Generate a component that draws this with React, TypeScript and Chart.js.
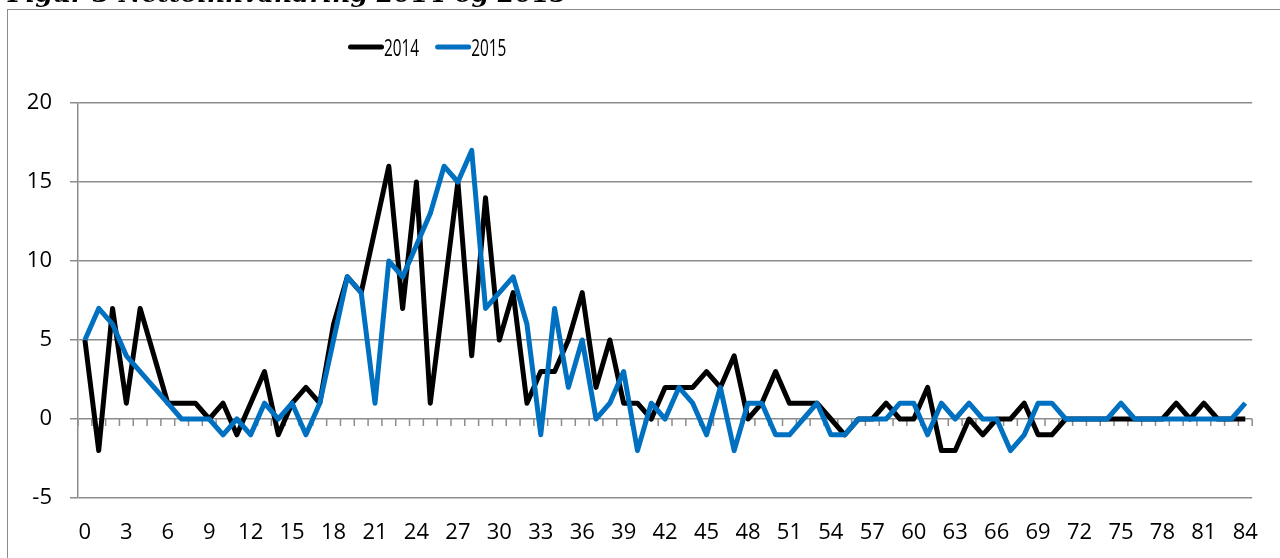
import React, { useEffect, useRef } from "react";
import { Chart, registerables } from "chart.js";

Chart.register(...registerables);

const titleText = "Figur 3 Nettoinnvandring 2014 og 2015";

const categories = [
  "0", "1", "2", "3", "4", "5", "6", "7", "8", "9",
  "10", "11", "12", "13", "14", "15", "16", "17", "18", "19",
  "20", "21", "22", "23", "24", "25", "26", "27", "28", "29",
  "30", "31", "32", "33", "34", "35", "36", "37", "38", "39",
  "40", "41", "42", "43", "44", "45", "46", "47", "48", "49",
  "50", "51", "52", "53", "54", "55", "56", "57", "58", "59",
  "60", "61", "62", "63", "64", "65", "66", "67", "68", "69",
  "70", "71", "72", "73", "74", "75", "76", "77", "78", "79",
  "80", "81", "82", "83", "84",
];

const series2014 = [
  5, -2, 7, 1, 7, 4, 1, 1, 1, 0,
  1, -1, 1, 3, -1, 1, 2, 1, 6, 9,
  8, 12, 16, 7, 15, 1, 8, 15, 4, 14,
  5, 8, 1, 3, 3, 5, 8, 2, 5, 1,
  1, 0, 2, 2, 2, 3, 2, 4, 0, 1,
  3, 1, 1, 1, 0, -1, 0, 0, 1, 0,
  0, 2, -2, -2, 0, -1, 0, 0, 1, -1,
  -1, 0, 0, 0, 0, 0, 0, 0, 0, 1,
  0, 1, 0, 0, 0,
];

const series2015 = [
  5, 7, 6, 4, 3, 2, 1, 0, 0, 0,
  -1, 0, -1, 1, 0, 1, -1, 1, 5, 9,
  8, 1, 10, 9, 11, 13, 16, 15, 17, 7,
  8, 9, 6, -1, 7, 2, 5, 0, 1, 3,
  -2, 1, 0, 2, 1, -1, 2, -2, 1, 1,
  -1, -1, 0, 1, -1, -1, 0, 0, 0, 1,
  1, -1, 1, 0, 1, 0, 0, -2, -1, 1,
  1, 0, 0, 0, 0, 1, 0, 0, 0, 0,
  0, 0, 0, 0, 1,
];

const seriesLabels = ["2014", "2015"];
const yTickValues = [-5, 0, 5, 10, 15, 20];

const GRID = "#8c8c8c";
const FONT = "'Open Sans', 'Noto Sans', sans-serif";
const COLOR_2014 = "#000000";
const COLOR_2015 = "#0070C0";
const LINE_WIDTH = 5;

const zeroAxisTicks = {
  id: "zeroAxisTicks",
  beforeDatasetsDraw(chart: any) {
    const xs = chart.scales.x;
    const ys = chart.scales.y;
    const ctx = chart.ctx;
    const n = chart.data.labels.length;
    const w = (xs.right - xs.left) / n;
    const y0 = ys.getPixelForValue(0);
    ctx.save();
    ctx.strokeStyle = GRID;
    ctx.lineWidth = 1.5;
    ctx.beginPath();
    for (let i = 0; i <= n; i++) {
      const px = xs.left + i * w;
      ctx.moveTo(px, y0);
      ctx.lineTo(px, y0 + 7);
    }
    ctx.stroke();
    ctx.restore();
  },
};

const sketchLegend = {
  id: "sketchLegend",
  afterDraw(chart: any) {
    const ctx = chart.ctx;
    let x = 348;
    const y = 47;
    const sx = 0.64;
    chart.data.datasets.forEach((ds: any) => {
      ctx.save();
      ctx.strokeStyle = ds.borderColor;
      ctx.lineWidth = LINE_WIDTH;
      ctx.lineCap = "round";
      ctx.beginPath();
      ctx.moveTo(x + 2.5, y);
      ctx.lineTo(x + 33.5, y);
      ctx.stroke();
      ctx.font = `24px ${FONT}`;
      ctx.fillStyle = "#000";
      ctx.textBaseline = "alphabetic";
      ctx.textAlign = "left";
      const tw = ctx.measureText(ds.label).width * sx;
      ctx.translate(x + 36, y + 9);
      ctx.scale(sx, 1);
      ctx.fillText(ds.label, 0, 0);
      ctx.restore();
      x += 36 + tw + 16;
    });
  },
};

export default function App() {
  const canvasRef = useRef<HTMLCanvasElement | null>(null);

  useEffect(() => {
    if (!canvasRef.current) return;
    const chart = new Chart(canvasRef.current, {
      type: "line",
      data: {
        labels: categories,
        datasets: [
          {
            label: seriesLabels[0],
            data: series2014,
            borderColor: COLOR_2014,
            backgroundColor: COLOR_2014,
            borderWidth: LINE_WIDTH,
            borderJoinStyle: "round",
            pointRadius: 0,
            tension: 0,
            order: 2,
          },
          {
            label: seriesLabels[1],
            data: series2015,
            borderColor: COLOR_2015,
            backgroundColor: COLOR_2015,
            borderWidth: LINE_WIDTH,
            borderJoinStyle: "round",
            pointRadius: 0,
            tension: 0,
            order: 1,
          },
        ],
      },
      options: {
        animation: false,
        responsive: false,
        maintainAspectRatio: false,
        layout: { padding: { top: 103, right: 22, left: 0, bottom: 0 } },
        plugins: {
          legend: { display: false },
          title: { display: false },
          tooltip: { enabled: false },
        },
        scales: {
          x: {
            type: "category",
            offset: true,
            grid: { display: false, drawTicks: false },
            border: { display: false },
            ticks: {
              autoSkip: false,
              maxRotation: 0,
              minRotation: 0,
              color: "#000",
              padding: 22,
              font: { family: FONT, size: 22 },
              callback: (_v: any, i: number) => (i % 3 === 0 ? categories[i] : ""),
            },
            afterFit: (s: any) => {
              s.height = 60;
            },
          },
          y: {
            min: -5,
            max: 20,
            afterBuildTicks: (s: any) => {
              s.ticks = yTickValues.map((v) => ({ value: v }));
            },
            ticks: {
              color: "#000",
              padding: 18,
              font: { family: FONT, size: 22 },
            },
            grid: { color: GRID, lineWidth: 1.5, tickLength: 8, drawTicks: true },
            border: { display: true, color: GRID, width: 1.5 },
            afterFit: (s: any) => {
              s.width = 78;
            },
          },
        },
      },
      plugins: [zeroAxisTicks, sketchLegend],
    } as any);
    return () => chart.destroy();
  }, []);

  return (
    <div
      style={{
        position: "fixed",
        left: 0,
        top: 0,
        width: 1280,
        height: 558,
        overflow: "hidden",
        background: "#fff",
      }}
    >
      <div
        style={{
          position: "absolute",
          left: 7,
          top: 8.5,
          width: 1400,
          height: 700,
          borderLeft: `1.5px solid ${GRID}`,
          borderTop: `1.5px solid ${GRID}`,
        }}
      />
      <canvas
        ref={canvasRef}
        width={1280}
        height={558}
        style={{ position: "absolute", left: 0, top: 0, width: 1280, height: 558 }}
      />
      <div
        style={{
          position: "absolute",
          left: 8,
          top: -19,
          fontFamily: "'DejaVu Serif', serif",
          fontWeight: "bold",
          fontStyle: "italic",
          fontSize: 25,
          lineHeight: "26px",
          whiteSpace: "nowrap",
          color: "#000",
        }}
      >
        {titleText}
      </div>
    </div>
  );
}
